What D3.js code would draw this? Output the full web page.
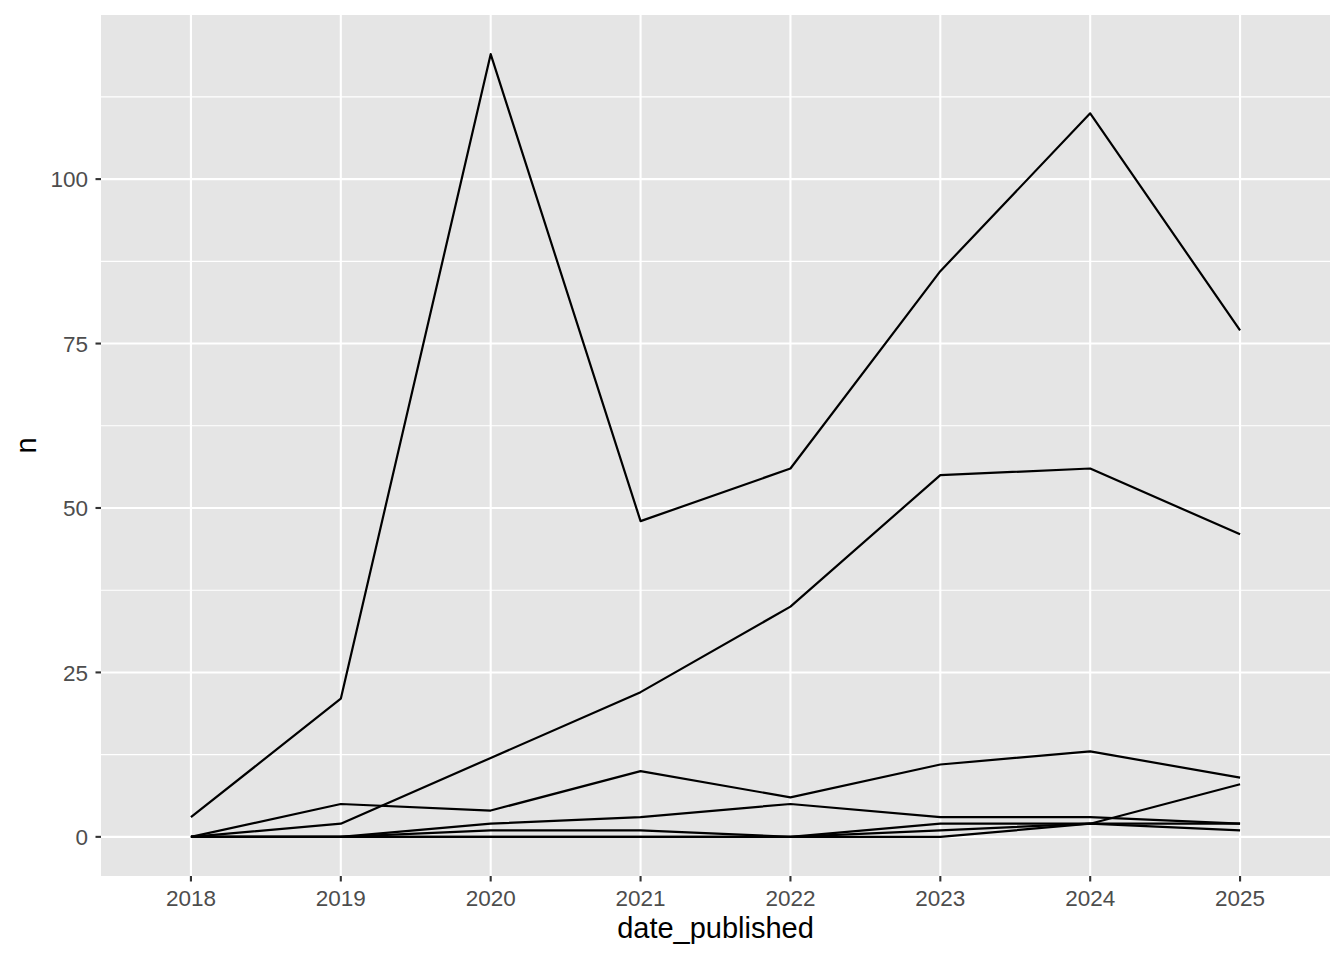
<!DOCTYPE html>
<html>
<head>
<meta charset="utf-8">
<script src="https://cdn.jsdelivr.net/npm/d3@7"></script>
<style>
  html, body { margin: 0; padding: 0; background: #fff; }
  svg { display: block; }
  text { font-family: "Liberation Sans", Arial, Helvetica, sans-serif; }
</style>
</head>
<body>
<svg id="chart" width="1344" height="960"></svg>
<script>
const years = ["2018", "2019", "2020", "2021", "2022", "2023", "2024", "2025"];
const seriesA = [3, 21, 119, 48, 56, 86, 110, 77];
const seriesB = [0, 2, 12, 22, 35, 55, 56, 46];
const seriesC = [0, 5, 4, 10, 6, 11, 13, 9];
const seriesD = [0, 0, 2, 3, 5, 3, 3, 2];
const seriesE = [0, 0, 1, 1, 0, 1, 2, 1];
const seriesG = [0, 0, 0, 0, 0, 2, 2, 2];
const seriesF = [0, 0, 0, 0, 0, 0, 2, 8];
const allSeries = [seriesA, seriesB, seriesC, seriesD, seriesE, seriesG, seriesF];
const yTicks = [0, 25, 50, 75, 100];
const yMinor = [12.5, 37.5, 62.5, 87.5, 112.5];
const xTitle = "date_published";
const yTitle = "n";

const svg = d3.select("#chart");
const panel = { left: 101, top: 15, right: 1330, bottom: 876 };

// discrete x scale with 0.6 expansion on each side
const x = d3.scaleLinear()
  .domain([-0.6, years.length - 1 + 0.6])
  .range([panel.left, panel.right]);

const maxV = d3.max(allSeries.flat());
const minV = 0;
const pad = (maxV - minV) * 0.05;
const y = d3.scaleLinear()
  .domain([minV - pad, maxV + pad])
  .range([panel.bottom, panel.top]);

// panel background
svg.append("rect")
  .attr("x", panel.left).attr("y", panel.top)
  .attr("width", panel.right - panel.left)
  .attr("height", panel.bottom - panel.top)
  .attr("fill", "#e5e5e5");

const grid = svg.append("g");
grid.selectAll(".minor").data(yMinor).enter().append("line")
  .attr("x1", panel.left).attr("x2", panel.right)
  .attr("y1", d => y(d)).attr("y2", d => y(d))
  .attr("stroke", "#fff").attr("stroke-width", 1.1);
grid.selectAll(".majory").data(yTicks).enter().append("line")
  .attr("x1", panel.left).attr("x2", panel.right)
  .attr("y1", d => y(d)).attr("y2", d => y(d))
  .attr("stroke", "#fff").attr("stroke-width", 2.1);
grid.selectAll(".majorx").data(years).enter().append("line")
  .attr("x1", (d, i) => x(i)).attr("x2", (d, i) => x(i))
  .attr("y1", panel.top).attr("y2", panel.bottom)
  .attr("stroke", "#fff").attr("stroke-width", 2.1);

// lines
const line = d3.line().x((d, i) => x(i)).y(d => y(d));
svg.append("g").selectAll("path").data(allSeries).enter().append("path")
  .attr("d", line)
  .attr("fill", "none")
  .attr("stroke", "#000")
  .attr("stroke-width", 2.2)
  .attr("stroke-linejoin", "round");

// x axis
const xAxis = svg.append("g");
xAxis.selectAll("line").data(years).enter().append("line")
  .attr("x1", (d, i) => x(i)).attr("x2", (d, i) => x(i))
  .attr("y1", panel.bottom).attr("y2", panel.bottom + 5.5)
  .attr("stroke", "#333").attr("stroke-width", 2.1);
xAxis.selectAll("text").data(years).enter().append("text")
  .attr("x", (d, i) => x(i)).attr("y", 906)
  .attr("text-anchor", "middle")
  .attr("font-size", 22.5).attr("fill", "#4d4d4d")
  .text(d => d);

// y axis
const yAxis = svg.append("g");
yAxis.selectAll("line").data(yTicks).enter().append("line")
  .attr("x1", panel.left - 5.5).attr("x2", panel.left)
  .attr("y1", d => y(d)).attr("y2", d => y(d))
  .attr("stroke", "#333").attr("stroke-width", 2.1);
yAxis.selectAll("text").data(yTicks).enter().append("text")
  .attr("x", 88).attr("y", d => y(d))
  .attr("dy", "0.36em")
  .attr("text-anchor", "end")
  .attr("font-size", 22.5).attr("fill", "#4d4d4d")
  .text(d => d);

// titles
svg.append("text")
  .attr("x", (panel.left + panel.right) / 2).attr("y", 938)
  .attr("text-anchor", "middle")
  .attr("font-size", 29).attr("fill", "#000")
  .text(xTitle);
svg.append("text")
  .attr("transform", `translate(36,${(panel.top + panel.bottom) / 2}) rotate(-90)`)
  .attr("text-anchor", "middle")
  .attr("font-size", 29).attr("fill", "#000")
  .text(yTitle);
</script>
</body>
</html>
